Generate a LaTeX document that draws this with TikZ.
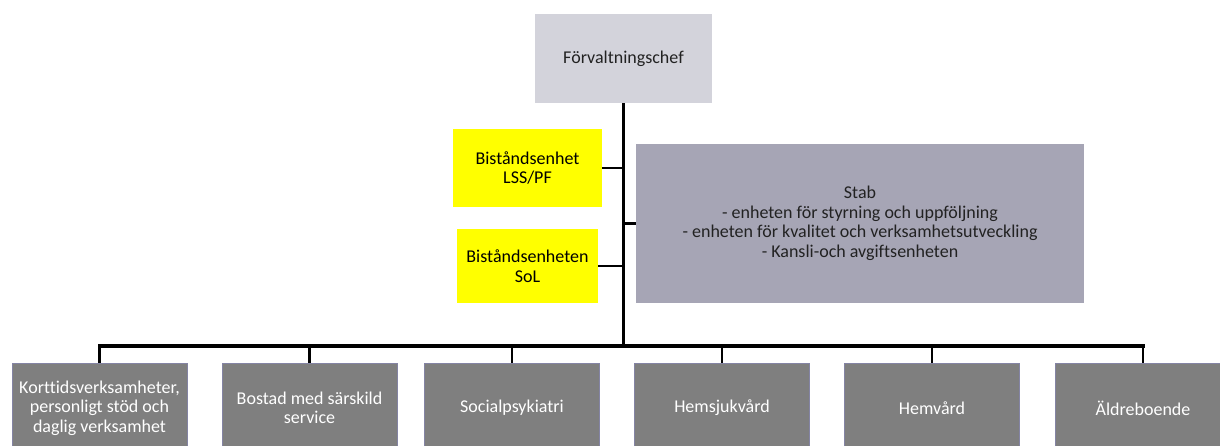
\documentclass[tikz,border=0pt]{standalone}
\usepackage{fontspec}
\setmainfont[Ligatures=NoCommon]{Carlito}
\definecolor{topgray}{HTML}{D3D3DB}
\definecolor{stabgray}{HTML}{A6A5B5}
\definecolor{unitgray}{HTML}{7F7F7F}
\definecolor{unitborder}{HTML}{8484A4}
\definecolor{bistyellow}{HTML}{FFFF00}
\definecolor{textdark}{HTML}{222222}
\tikzset{
  box/.style={rectangle, inner sep=0pt, align=center, anchor=center,
    font=\fontsize{18}{19.5}\selectfont},
  topbox/.style={box, fill=topgray, text=textdark},
  bistbox/.style={box, fill=bistyellow, text=black},
  stabbox/.style={box, fill=stabgray, text=textdark},
  unitbox/.style={box, fill=unitgray, draw=unitborder, line width=1pt, text=white,
    minimum width=175pt, minimum height=90pt},
  mainline/.style={line width=3.2pt, black},
  branch/.style={line width=2.4pt, black},
}
\begin{document}
\begin{tikzpicture}[x=1pt,y=-1pt]
\useasboundingbox (0,0) rectangle (1220,446);
\clip (0,0) rectangle (1220,446);
\fill[white] (0,0) rectangle (1220,446);
% top
\node[topbox, minimum width=177pt, minimum height=89pt] (chef) at (623.5,58.5) {Förvaltningschef};
% yellow units
\node[bistbox, minimum width=149pt, minimum height=78pt] (bist1) at (527.5,168) {Biståndsenhet\\LSS/PF};
\node[bistbox, minimum width=141pt, minimum height=74pt] (bist2) at (527.5,266) {Biståndsenheten\\SoL};
% stab
\node[stabbox, minimum width=448pt, minimum height=159pt] (stab) at (860,223.5) {Stab\\- enheten för styrning och uppföljning\\- enheten för kvalitet och verksamhetsutveckling\\- Kansli-och avgiftsenheten};
% bottom units
\node[unitbox] (u1) at (99.5,408) {Korttidsverksamheter,\\personligt stöd och\\daglig verksamhet};
\node[unitbox] (u2) at (309.5,408) {Bostad med särskild\\service};
\node[unitbox] (u3) at (512,408) {Socialpsykiatri};
\node[unitbox] (u4) at (722,408) {Hemsjukvård};
\node[unitbox] (u5) at (932,408) {Hemvård};
\node[unitbox] (u6) at (1143,408) {Äldreboende};
% connectors
\coordinate (bus) at (623,346);
\draw[mainline] (chef.south) -- (chef.south |- bus);
\draw[branch] (bist1.east) -- (bist1.east -| chef.south);
\draw[branch] (bist2.east) -- (bist2.east -| chef.south);
\draw[branch] (stab.west) -- (stab.west -| chef.south);
\draw[mainline, line cap=rect] (bus -| u1.north) -- (bus -| u6.north);
\foreach \u in {u1,u2,u3,u4,u5,u6}{
  \draw[branch] (bus -| \u.north) -- (\u.north);
}
\end{tikzpicture}
\end{document}
